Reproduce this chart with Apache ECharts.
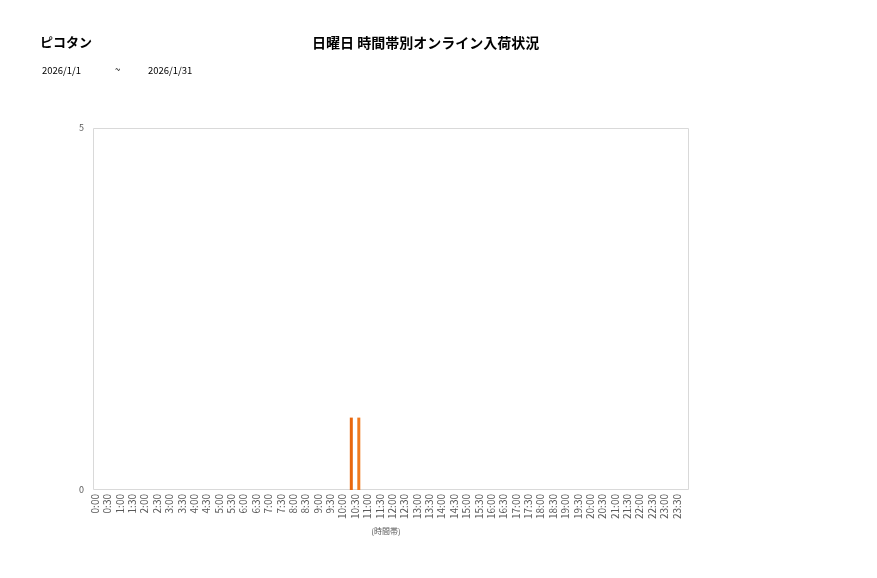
<!DOCTYPE html>
<html>
<head>
<meta charset="utf-8">
<script src="https://cdn.jsdelivr.net/npm/echarts@6/dist/echarts.min.js"></script>
<style>
html,body{margin:0;padding:0;background:#fff;}
#chart{width:877px;height:578px;}
</style>
</head>
<body>
<div id="chart"></div>
<script>
const categories = ["0:00","0:30","1:00","1:30","2:00","2:30","3:00","3:30","4:00","4:30","5:00","5:30","6:00","6:30","7:00","7:30","8:00","8:30","9:00","9:30","10:00","10:30","11:00","11:30","12:00","12:30","13:00","13:30","14:00","14:30","15:00","15:30","16:00","16:30","17:00","17:30","18:00","18:30","19:00","19:30","20:00","20:30","21:00","21:30","22:00","22:30","23:00","23:30"];
const seriesA = [0,0,0,0,0,0,0,0,0,0,0,0,0,0,0,0,0,0,0,0,0,1,0,0,0,0,0,0,0,0,0,0,0,0,0,0,0,0,0,0,0,0,0,0,0,0,0,0];
const seriesB = [0,0,0,0,0,0,0,0,0,0,0,0,0,0,0,0,0,0,0,0,0,1,0,0,0,0,0,0,0,0,0,0,0,0,0,0,0,0,0,0,0,0,0,0,0,0,0,0];
const yTicks = [0, 5];
const shopName = "ピコタン";
const chartTitle = "日曜日 時間帯別オンライン入荷状況";
const dateFrom = "2026/1/1";
const dateTo = "2026/1/31";

const font = '"Noto Sans CJK JP", "Noto Sans", sans-serif';
const chart = echarts.init(document.getElementById('chart'));
chart.setOption({
  animation: false,
  backgroundColor: '#fff',
  title: [
    {text: shopName, left: 35, top: 31, textStyle: {fontFamily: font, fontSize: 13, fontWeight: 'bold', color: '#000'}},
    {text: chartTitle, left: 307, top: 31, textStyle: {fontFamily: font, fontSize: 14, fontWeight: 'bold', color: '#000'}},
    {text: dateFrom, left: 37, top: 61, textStyle: {fontFamily: font, fontSize: 9.5, fontWeight: 'normal', color: '#000'}},
    {text: '~', left: 110, top: 60, textStyle: {fontFamily: font, fontSize: 9.5, fontWeight: 'normal', color: '#000'}},
    {text: dateTo, left: 143, top: 61, textStyle: {fontFamily: font, fontSize: 9.5, fontWeight: 'normal', color: '#000'}}
  ],
  graphic: [
    {type: 'rect', shape: {x: 93.5, y: 128.5, width: 595, height: 361}, style: {fill: 'none', stroke: '#d9d9d9', lineWidth: 1}, silent: true, z: 0}
  ],
  grid: {left: 89, right: 194, top: 128, bottom: 88, show: false},
  xAxis: {
    type: 'category',
    data: categories,
    boundaryGap: true,
    name: '(時間帯)',
    nameLocation: 'middle',
    nameGap: 36,
    nameTextStyle: {fontFamily: font, fontSize: 8, color: '#595959'},
    axisLine: {show: false},
    axisTick: {show: false},
    axisLabel: {interval: 0, rotate: 90, fontFamily: font, fontSize: 10, color: '#595959', margin: 4}
  },
  yAxis: {
    type: 'value',
    min: yTicks[0],
    max: yTicks[yTicks.length - 1],
    interval: yTicks[1] - yTicks[0],
    axisLine: {show: false},
    axisTick: {show: false},
    splitLine: {show: false},
    axisLabel: {fontFamily: font, fontSize: 9, color: '#595959', margin: 5}
  },
  series: [
    {type: 'bar', data: seriesA, barWidth: 3, barGap: '150%', itemStyle: {color: '#E8670E'}},
    {type: 'bar', data: seriesB, barWidth: 3, barGap: '150%', itemStyle: {color: '#F07A1E'}}
  ]
});
</script>
</body>
</html>
